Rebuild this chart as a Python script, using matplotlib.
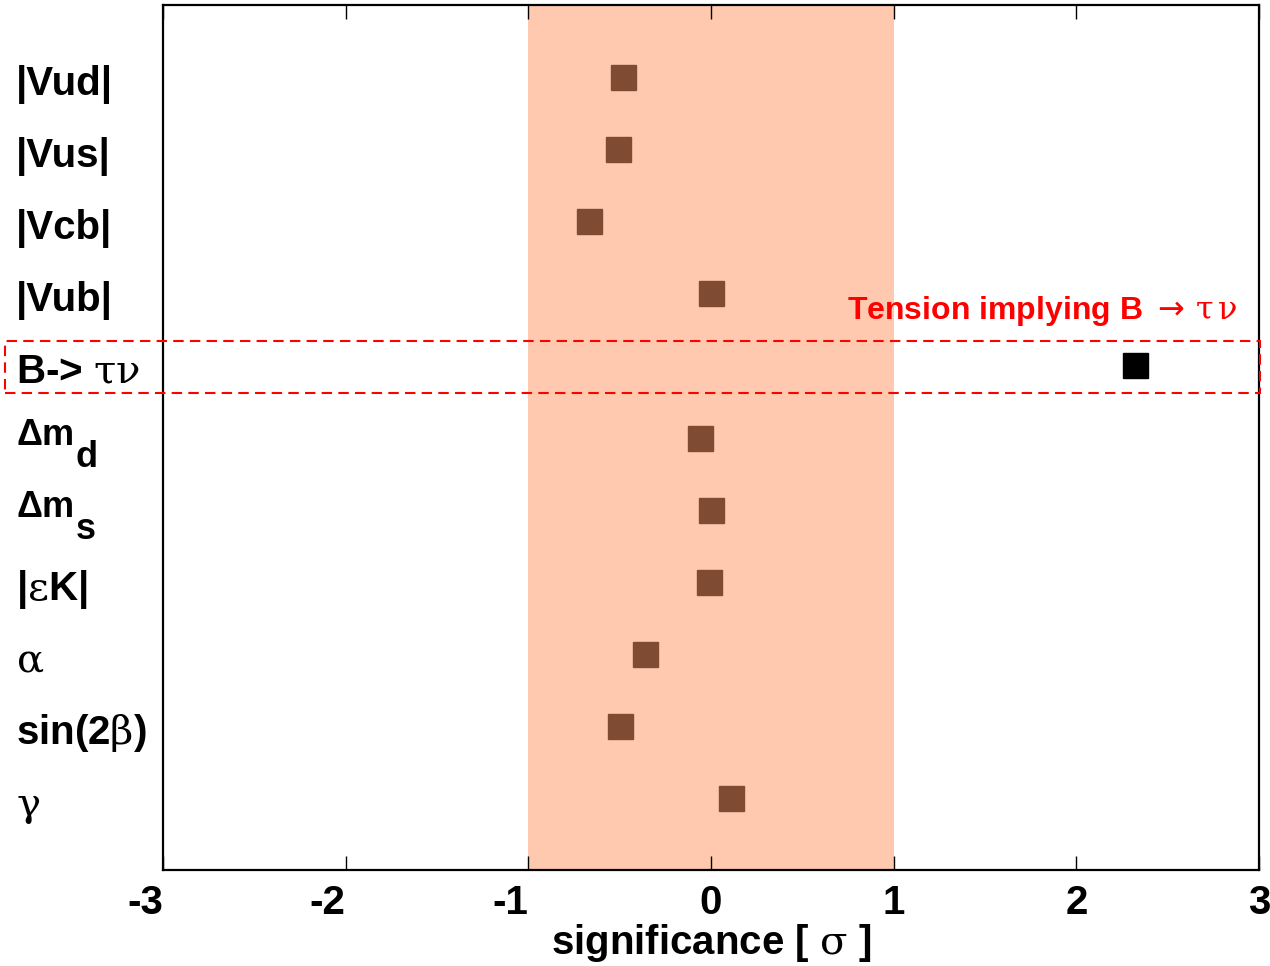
import matplotlib
matplotlib.use('Agg')
import matplotlib.pyplot as plt
from matplotlib.patches import Rectangle
from matplotlib.transforms import blended_transform_factory

plt.rcParams['font.family'] = ['Liberation Sans', 'DejaVu Sans']
plt.rcParams['axes.unicode_minus'] = False
plt.rcParams['mathtext.fontset'] = 'custom'
plt.rcParams['mathtext.rm'] = 'Liberation Sans:bold'
plt.rcParams['mathtext.bf'] = 'Liberation Sans:bold'
plt.rcParams['mathtext.it'] = 'DejaVu Serif:weight=normal'
plt.rcParams['mathtext.sf'] = 'DejaVu Sans:weight=normal'

# observables, top to bottom
labels = ['|Vud|', '|Vus|', '|Vcb|', '|Vub|', r'B-> $\tau\nu$',
          r'$\Delta$m', r'$\Delta$m', r'|$\epsilon$K|',
          r'$\alpha$', r'sin(2$\beta$)', r'$\gamma$']
subs = {5: 'd', 6: 's'}
sig = [-0.48, -0.51, -0.67, 0.0, 2.32, -0.06, 0.0, -0.01, -0.36, -0.50, 0.11]
tension_idx = 4

brown = '#7f4b33'
band = '#ffc9af'

fig = plt.figure(figsize=(12.7, 9.66), dpi=100)
ax = fig.add_axes([163/1270, 1-870/966, 1096/1270, 865/966])

n = len(labels)
ypos = [n - i for i in range(n)]

ax.axvspan(-1, 1, color=band, zorder=0, lw=0)
for i in range(n):
    c = 'black' if i == tension_idx else brown
    ax.plot(sig[i], ypos[i], 's', ms=18, color=c, mec=c, zorder=3)

ax.set_xlim(-3, 3)
ax.set_ylim(0, n + 1)
ax.set_xticks(range(-3, 4))
ax.set_xticklabels([str(v) for v in range(-3, 4)])
ax.set_yticks([])
ax.tick_params(axis='x', direction='in', top=True, length=10, width=1.0,
               labelsize=29, pad=10)
for lbl in ax.get_xticklabels():
    lbl.set_fontweight('bold')
    if lbl.get_text().startswith('-'):
        lbl.set_horizontalalignment('right')
for s in ax.spines.values():
    s.set_linewidth(1.6)
ax.set_xlabel(r'significance [ $\sigma$ ]', fontsize=29, fontweight='bold', labelpad=0)

tr = blended_transform_factory(ax.transAxes, ax.transData)
for i in range(n):
    if i in subs:
        t = ax.text(-0.134, ypos[i] - 0.1, labels[i], transform=tr, ha='left',
                    va='baseline', fontsize=26, fontweight='bold', clip_on=False)
        ax.annotate(subs[i], xy=(1, 0), xycoords=t, xytext=(1, -16),
                    textcoords='offset points', ha='left', va='bottom',
                    fontsize=26, fontweight='bold', annotation_clip=False)
    else:
        ax.text(-0.134, ypos[i] - 0.25, labels[i], transform=tr, ha='left',
                va='baseline', fontsize=29, fontweight='bold', clip_on=False)

# dashed box around the tension row
y0 = ypos[tension_idx]
box = Rectangle((-3.865, y0 - 0.38), 3.005 + 3.865, 0.72, fill=False,
                edgecolor='red', lw=1.5, ls=(0, (5, 3)), clip_on=False, zorder=4)
ax.add_patch(box)
ax.text(2.88, y0 + 0.76, r'Tension implying B $\mathsf{\rightarrow}\,\tau\,\nu$',
        color='red', fontsize=23, fontweight='bold', ha='right', va='center')

fig.savefig('out.png', dpi=100)
